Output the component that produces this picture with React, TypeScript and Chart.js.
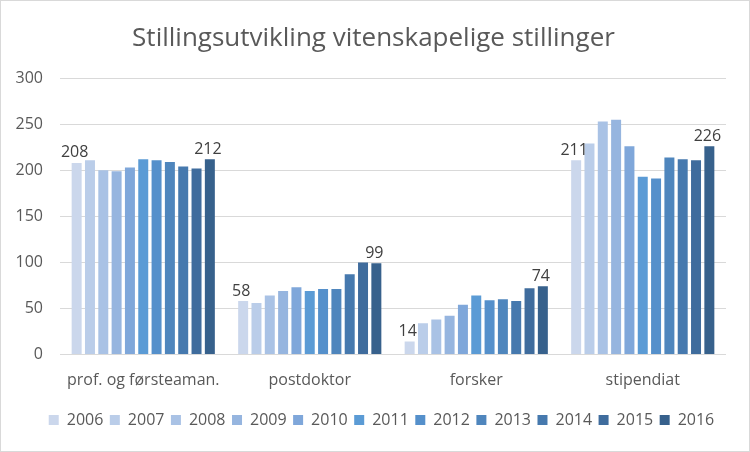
import React, { useEffect, useRef } from "react";
import { Chart, registerables } from "chart.js";

Chart.register(...registerables);

const categories = ["prof. og førsteaman.", "postdoktor", "forsker", "stipendiat"];
const years = ["2006", "2007", "2008", "2009", "2010", "2011", "2012", "2013", "2014", "2015", "2016"];

const v2006 = [208, 58, 14, 211];
const v2007 = [211, 56, 34, 229];
const v2008 = [200, 64, 38, 253];
const v2009 = [199, 69, 42, 255];
const v2010 = [203, 73, 54, 226];
const v2011 = [212, 69, 64, 193];
const v2012 = [211, 71, 59, 191];
const v2013 = [209, 71, 60, 214];
const v2014 = [204, 87, 58, 212];
const v2015 = [202, 100, 72, 211];
const v2016 = [212, 99, 74, 226];

const seriesValues = [v2006, v2007, v2008, v2009, v2010, v2011, v2012, v2013, v2014, v2015, v2016];
const colors = [
  "#cbd7ec", "#bacde9", "#a9c2e5", "#96b5df", "#7fa7da", "#5b9bd5",
  "#5590cb", "#4f86bd", "#4679ae", "#3f6c9d", "#37618c",
];
const labelledSeries = [0, 10];
const yTicks = { min: 0, max: 300, step: 50 };

const FONT = "'Open Sans', sans-serif";
const TEXT = "#595959";

const labelPlugin = {
  id: "endLabels",
  afterLayout(chart: any) {
    if (chart.titleBlock) {
      chart.titleBlock.left += 10;
      chart.titleBlock.right += 10;
    }
    if (chart.legend) {
      chart.legend.left += 18;
      chart.legend.right += 18;
    }
  },
  afterDatasetsDraw(chart: any) {
    const ctx = chart.ctx;
    ctx.save();
    ctx.font = `16px ${FONT}`;
    ctx.fillStyle = "#404040";
    ctx.textAlign = "center";
    ctx.textBaseline = "bottom";
    labelledSeries.forEach((di) => {
      const meta = chart.getDatasetMeta(di);
      meta.data.forEach((bar: any, i: number) => {
        const val = chart.data.datasets[di].data[i];
        ctx.fillText(String(val), bar.x - 2, bar.y - 2);
      });
    });
    ctx.restore();
  },
};

export default function App() {
  const ref = useRef<HTMLCanvasElement>(null);
  useEffect(() => {
    if (!ref.current) return;
    const chart = new Chart(ref.current, {
      type: "bar",
      data: {
        labels: categories,
        datasets: years.map((y, i) => ({
          label: y,
          data: seriesValues[i],
          backgroundColor: colors[i],
          borderWidth: 0,
          categoryPercentage: 0.88,
          barPercentage: 0.75,
        })),
      },
      options: {
        animation: false,
        responsive: false,
        maintainAspectRatio: false,
        layout: { padding: { left: 0, right: 23, top: 0, bottom: 13 } },
        plugins: {
          title: {
            display: true,
            text: "Stillingsutvikling vitenskapelige stillinger",
            color: TEXT,
            font: { family: FONT, size: 26, weight: "normal", lineHeight: 1.2 },
            padding: { top: 22, bottom: 24 },
          },
          legend: {
            position: "bottom",
            labels: {
              color: TEXT,
              font: { family: FONT, size: 16 },
              boxWidth: 10,
              boxHeight: 10,
              padding: 6.5,
            },
          },
          tooltip: { enabled: false },
        },
        scales: {
          x: {
            grid: { display: false },
            border: { display: false },
            ticks: { color: TEXT, font: { family: FONT, size: 16 }, padding: 8 },
            afterFit: (s: any) => {
              s.height = 51;
            },
          },
          y: {
            min: yTicks.min,
            max: yTicks.max,
            border: { display: false },
            grid: { color: "#d9d9d9", lineWidth: 1, drawTicks: false },
            ticks: {
              stepSize: yTicks.step,
              color: TEXT,
              font: { family: FONT, size: 16 },
              padding: 17,
            },
            afterFit: (s: any) => {
              s.width = 59;
            },
          },
        },
      },
      plugins: [labelPlugin],
    });
    return () => chart.destroy();
  }, []);
  return (
    <div
      style={{
        position: "absolute",
        left: 0,
        top: 0,
        width: 750,
        height: 452,
        boxSizing: "border-box",
        border: "1px solid #d9d9d9",
        background: "#fff",
      }}
    >
      <canvas ref={ref} width={748} height={450} style={{ display: "block" }} />
    </div>
  );
}
